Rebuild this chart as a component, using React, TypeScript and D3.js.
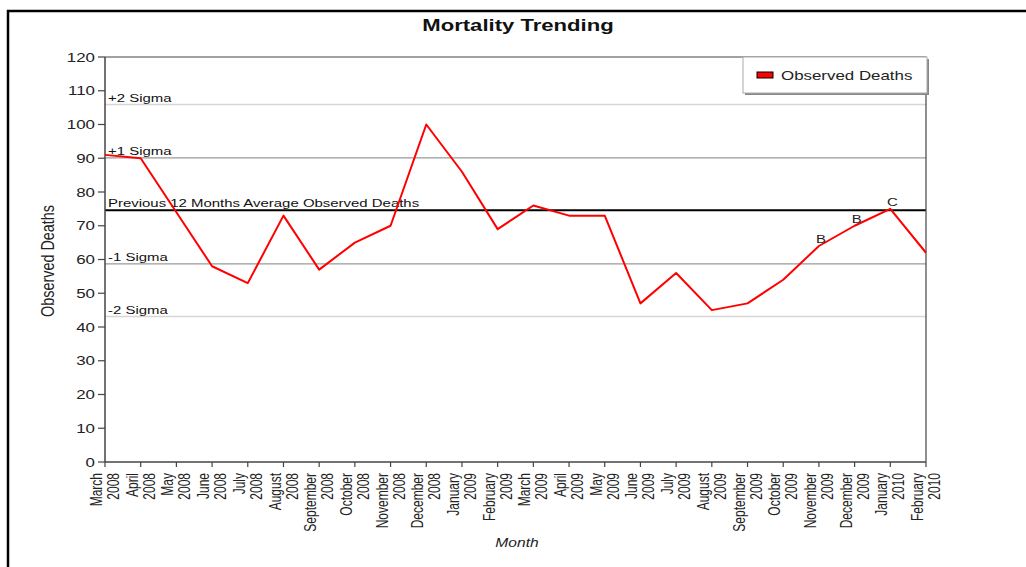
import React from "react";
import * as d3 from "d3";

// chart values
const categories = [
  "March 2008", "April 2008", "May 2008", "June 2008", "July 2008", "August 2008",
  "September 2008", "October 2008", "November 2008", "December 2008", "January 2009", "February 2009",
  "March 2009", "April 2009", "May 2009", "June 2009", "July 2009", "August 2009",
  "September 2009", "October 2009", "November 2009", "December 2009", "January 2010", "February 2010",
];
const observedDeaths = [91, 90, 74, 58, 53, 73, 57, 65, 70, 100, 86, 69, 76, 73, 73, 47, 56, 45, 47, 54, 64, 70, 75, 62];
const pointNotes = ["", "", "", "", "", "", "", "", "", "", "", "", "", "", "", "", "", "", "", "", "B", "B", "C", ""];
const refLabels = ["+2 Sigma", "+1 Sigma", "Previous 12 Months Average Observed Deaths", "-1 Sigma", "-2 Sigma"];
const refValues = [105.9, 90.1, 74.6, 58.7, 43.1];
const yTicks = [0, 10, 20, 30, 40, 50, 60, 70, 80, 90, 100, 110, 120];

const W = 1026, H = 567;
const left = 105, right = 926, top = 57, bottom = 462;
const SX = 1.3; // the reference text is stretched sideways
const FONT = "'Liberation Sans', Arial, sans-serif";

const refStroke = ["#d6d6d6", "#9a9a9a", "#000", "#9a9a9a", "#d6d6d6"];
const refWidth = [1.5, 1.2, 2, 1.2, 1.5];

function SText(props: any) {
  const { x, y, rot, children, ...rest } = props;
  const tr = `translate(${x},${y}) scale(${SX},1)` + (rot ? ` rotate(${rot})` : "");
  return (
    <g transform={tr}>
      <text fontFamily={FONT} {...rest}>{children}</text>
    </g>
  );
}

export default function App() {
  const x = d3.scalePoint<string>().domain(categories).range([left, right]);
  const y = d3.scaleLinear().domain([0, 120]).range([bottom, top]);
  const line = d3.line<number>()
    .x((d, i) => x(categories[i]) as number)
    .y(d => y(d));

  return (
    <svg width={W} height={H} style={{ position: "absolute", left: 0, top: 0, background: "#fff" }}>
      <rect x={8} y={11} width={W + 20} height={H + 20} fill="none" stroke="#000" strokeWidth={2.5} />

      <SText x={518} y={31} fontSize={17} fontWeight="bold" textAnchor="middle" fill="#111">Mortality Trending</SText>

      {/* reference lines */}
      {refValues.map((v, i) => (
        <line key={"r" + i} x1={left} x2={right} y1={y(v)} y2={y(v)} stroke={refStroke[i]} strokeWidth={refWidth[i]} />
      ))}
      {refValues.map((v, i) => (
        <SText key={"rl" + i} x={108} y={y(v) - 3} fontSize={11.5} fill="#111">{refLabels[i]}</SText>
      ))}

      {/* plot frame */}
      <line x1={left} x2={right} y1={top} y2={top} stroke="#444" strokeWidth={1.2} />
      <line x1={right} x2={right} y1={top} y2={bottom} stroke="#444" strokeWidth={1.2} />
      <line x1={left} x2={left} y1={top} y2={bottom} stroke="#444" strokeWidth={1.5} />
      <line x1={left} x2={right} y1={bottom} y2={bottom} stroke="#444" strokeWidth={1.5} />

      {/* y axis */}
      {yTicks.map(t => (
        <g key={"y" + t}>
          <line x1={left - 7} x2={left} y1={y(t)} y2={y(t)} stroke="#444" strokeWidth={1.2} />
          <SText x={95} y={y(t)} dy="0.36em" fontSize={13} textAnchor="end" fill="#222">{t}</SText>
        </g>
      ))}
      <SText x={54} y={261} rot={-90} fontSize={14.4} textAnchor="middle" fill="#222">Observed Deaths</SText>

      {/* x axis */}
      {categories.map(c => {
        const [m, yr] = c.split(" ");
        const cx = x(c) as number;
        return (
          <g key={c}>
            <line x1={cx} x2={cx} y1={bottom} y2={bottom + 5} stroke="#444" strokeWidth={1.2} />
            <SText x={cx} y={473} rot={-90} fontSize={12} textAnchor="end" fill="#222">
              <tspan x={0} y={-2.3}>{m}</tspan>
              <tspan x={0} y={10.8}>{yr}</tspan>
            </SText>
          </g>
        );
      })}
      <SText x={517} y={547} fontSize={12} fontStyle="italic" textAnchor="middle" fill="#222">Month</SText>

      {/* series */}
      <path d={line(observedDeaths) || ""} fill="none" stroke="#ff0000" strokeWidth={2} strokeLinejoin="round" />
      {observedDeaths.map((v, i) => pointNotes[i] ? (
        <SText key={"n" + i} x={(x(categories[i]) as number) + 2} y={y(v) - 3} fontSize={11.5} textAnchor="middle" fill="#222">{pointNotes[i]}</SText>
      ) : null)}

      {/* legend */}
      <rect x={745} y={59} width={184} height={36} fill="#888" />
      <rect x={743} y={57} width={184} height={36} fill="#fff" stroke="#aaa" strokeWidth={1} />
      <rect x={757} y={72} width={16} height={6} fill="#ff0000" stroke="#000" strokeWidth={1} />
      <SText x={781} y={80} fontSize={13} fill="#222">Observed Deaths</SText>
    </svg>
  );
}
